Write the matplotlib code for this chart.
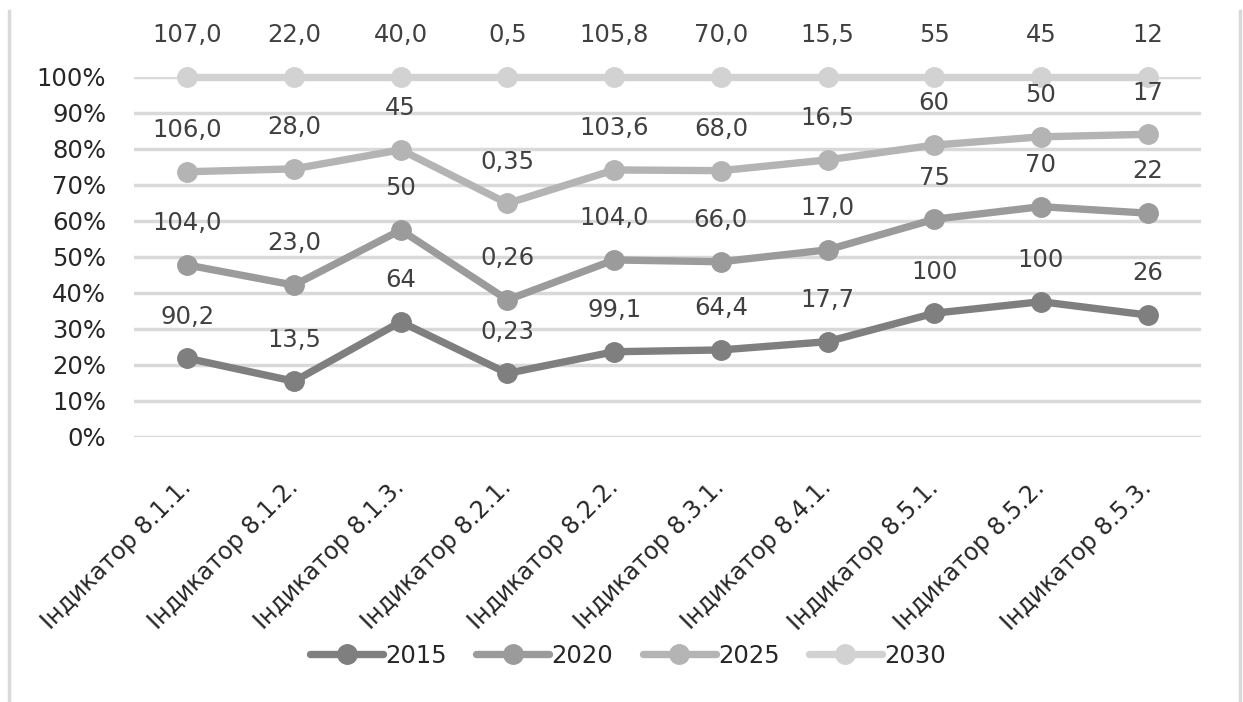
import matplotlib
matplotlib.use("Agg")
import matplotlib.pyplot as plt
from matplotlib.lines import Line2D

plt.rcParams['font.family'] = ['DejaVu Sans']

categories = ["Індикатор 8.1.1.", "Індикатор 8.1.2.", "Індикатор 8.1.3.", "Індикатор 8.2.1.",
              "Індикатор 8.2.2.", "Індикатор 8.3.1.", "Індикатор 8.4.1.", "Індикатор 8.5.1.",
              "Індикатор 8.5.2.", "Індикатор 8.5.3."]
years = ["2015", "2020", "2025", "2030"]

# share of the 2030 target, %
pct_2015 = [21.8, 15.4, 31.9, 17.6, 23.6, 24.1, 26.4, 34.3, 37.5, 33.8]
pct_2020 = [47.7, 42.1, 57.4, 38.0, 49.1, 48.6, 51.9, 60.4, 63.9, 62.1]
pct_2025 = [73.6, 74.4, 79.7, 64.8, 74.1, 73.9, 76.9, 81.0, 83.3, 84.0]
pct_2030 = [100, 100, 100, 100, 100, 100, 100, 100, 100, 100]

# data labels (indicator values)
lab_2015 = ["90,2", "13,5", "64", "0,23", "99,1", "64,4", "17,7", "100", "100", "26"]
lab_2020 = ["104,0", "23,0", "50", "0,26", "104,0", "66,0", "17,0", "75", "70", "22"]
lab_2025 = ["106,0", "28,0", "45", "0,35", "103,6", "68,0", "16,5", "60", "50", "17"]
lab_2030 = ["107,0", "22,0", "40,0", "0,5", "105,8", "70,0", "15,5", "55", "45", "12"]

colors = ["#7f7f7f", "#9b9b9b", "#b4b4b4", "#d2d2d2"]
series = [pct_2015, pct_2020, pct_2025, pct_2030]
labels = [lab_2015, lab_2020, lab_2025, lab_2030]

fig = plt.figure(figsize=(12.43, 7.02), dpi=100)
ax = fig.add_axes([134 / 1243, 1 - 436.7 / 702, 1067 / 1243, 360 / 702])

x = list(range(len(categories)))
for vals, col, yr in zip(series, colors, years):
    ax.plot(x, vals, color=col, lw=5.3, marker="o", ms=14, label=yr,
            solid_capstyle="round", clip_on=False, zorder=3)

for vals, labs in zip(series, labels):
    for xi, v, t in zip(x, vals, labs):
        ax.annotate(t, (xi, v), xytext=(0, 30), textcoords="offset points",
                    ha="center", va="center", fontsize=17.5, color="#404040",
                    zorder=5, annotation_clip=False)

ax.set_xlim(-0.5, len(categories) - 0.5)
ax.set_ylim(0, 100)
ax.set_yticks(range(0, 101, 10))
ax.set_yticklabels([f"{v}%" for v in range(0, 101, 10)], fontsize=17.5, color="#262626")
ax.set_xticks(x)
ax.set_xticklabels(categories, rotation=45, ha="right", va="center",
                   rotation_mode="anchor", fontsize=17, color="#262626")
ax.tick_params(axis="both", length=0)
ax.tick_params(axis="y", pad=20)
ax.tick_params(axis="x", pad=34)
ax.grid(axis="y", color="#d9d9d9", lw=2.5)
ax.set_axisbelow(True)
for s in ax.spines.values():
    s.set_visible(False)

leg = ax.legend(loc="center", bbox_to_anchor=(628 / 1243, 1 - 656 / 702),
                bbox_transform=fig.transFigure, ncol=4, frameon=False,
                fontsize=17.5, handlelength=3.0, handletextpad=0.1,
                columnspacing=1.2, markerscale=1.0)
for t in leg.get_texts():
    t.set_color("#262626")

# outer chart-area frame (left and right edges visible)
fig.add_artist(Line2D([9 / 1243, 9 / 1243], [0, 1 - 11 / 702], color="#d9d9d9", lw=2.5))
fig.add_artist(Line2D([1240 / 1243, 1240 / 1243], [0, 1 - 11 / 702], color="#d9d9d9", lw=2.5))

fig.savefig("out.png", dpi=100)
